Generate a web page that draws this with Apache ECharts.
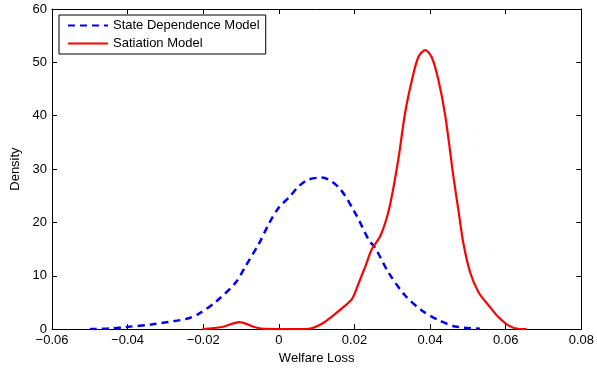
<!DOCTYPE html>
<html>
<head>
<meta charset="utf-8">
<script src="https://cdn.jsdelivr.net/npm/echarts@6/dist/echarts.min.js"></script>
<style>html,body{margin:0;padding:0;background:#fff;}#chart{width:597px;height:370px;}</style>
</head>
<body>
<div id="chart"></div>
<script>
var seriesNames = ['State Dependence Model', 'Satiation Model'];
var sdX = [-0.050, -0.0448, -0.0404, -0.0334, -0.0246, -0.0211, -0.0167, -0.0114, -0.0088, -0.0052, -0.0026, 0.0, 0.0027, 0.0053, 0.0079, 0.0114, 0.0159, 0.0203, 0.0238, 0.0255, 0.0290, 0.0334, 0.0378, 0.0422, 0.0466, 0.0532];
var sdY = [0, 0.1, 0.4, 0.9, 1.9, 2.9, 5.1, 8.75, 11.8, 16.1, 19.8, 22.8, 24.7, 26.8, 28.05, 28.4, 26.5, 21.6, 16.7, 15.2, 10.6, 6.3, 3.5, 1.7, 0.5, 0.05];
var satX = [-0.0202, -0.015, -0.0105, -0.006, -0.0035, 0.005, 0.0079, 0.0114, 0.0141, 0.0172, 0.0194, 0.0211, 0.0229, 0.0246, 0.0268, 0.0286, 0.0299, 0.0317, 0.0334, 0.0352, 0.0369, 0.0387, 0.0404, 0.0422, 0.0440, 0.0462, 0.0475, 0.0488, 0.0506, 0.0528, 0.0554, 0.0580, 0.0607, 0.0633, 0.0655];
var satY = [0, 0.4, 1.3, 0.3, 0.05, 0, 0.05, 1.0, 2.4, 4.2, 5.7, 8.6, 11.8, 15.0, 17.4, 21.0, 25.0, 32.3, 40.6, 46.7, 51.0, 52.3, 51.0, 46.7, 40.0, 28.4, 22.2, 16.1, 10.6, 6.9, 4.5, 2.3, 0.7, 0.05, 0];
var xTickValues = [-0.06, -0.04, -0.02, 0, 0.02, 0.04, 0.06, 0.08];
var xTickLabels = ['\u22120.06', '\u22120.04', '\u22120.02', '0', '0.02', '0.04', '0.06', '0.08'];
var yTickValues = [0, 10, 20, 30, 40, 50, 60];
var yTickLabels = ['0', '10', '20', '30', '40', '50', '60'];
var xAxisName = 'Welfare Loss';
var yAxisName = 'Density';

function zip(a, b) { return a.map(function (v, i) { return [v, b[i]]; }); }
function xFmt(v) {
  for (var i = 0; i < xTickValues.length; i++) if (Math.abs(v - xTickValues[i]) < 1e-9) return xTickLabels[i];
  return '';
}
function yFmt(v) {
  for (var i = 0; i < yTickValues.length; i++) if (Math.abs(v - yTickValues[i]) < 1e-9) return yTickLabels[i];
  return '';
}
var FONT = 'Liberation Sans, Arial, sans-serif';
var axisCommon = {
  type: 'value',
  axisLine: { show: true, onZero: false, lineStyle: { color: '#000', width: 1 } },
  axisTick: { show: true, inside: true, length: 5, lineStyle: { color: '#000' } },
  splitLine: { show: false }
};
var chart = echarts.init(document.getElementById('chart'), null, { renderer: 'canvas' });
chart.setOption({
  animation: false,
  backgroundColor: '#fff',
  grid: { left: 52, right: 14, top: 9, bottom: 36, containLabel: false },
  xAxis: [
    Object.assign({}, axisCommon, {
      min: -0.06, max: 0.08, interval: 0.02, position: 'bottom',
      name: xAxisName, nameLocation: 'middle', nameGap: 22,
      nameTextStyle: { color: '#000', fontSize: 13, fontFamily: FONT },
      axisLabel: { color: '#000', fontSize: 13, fontFamily: FONT, margin: 5, formatter: xFmt }
    }),
    Object.assign({}, axisCommon, {
      min: -0.06, max: 0.08, interval: 0.02, position: 'top',
      axisLabel: { show: false }
    })
  ],
  yAxis: [
    Object.assign({}, axisCommon, {
      min: 0, max: 60, interval: 10, position: 'left',
      name: yAxisName, nameLocation: 'middle', nameGap: 28, nameRotate: 90,
      nameTextStyle: { color: '#000', fontSize: 13, fontFamily: FONT },
      axisLabel: { color: '#000', fontSize: 13, fontFamily: FONT, margin: 5, formatter: yFmt }
    }),
    Object.assign({}, axisCommon, {
      min: 0, max: 60, interval: 10, position: 'right',
      axisLabel: { show: false }
    })
  ],
  legend: {
    show: true, orient: 'vertical', left: 59, top: 15,
    backgroundColor: '#fff', borderColor: '#000', borderWidth: 1, borderRadius: 0,
    padding: [4, 6, 4, 8], itemGap: 5, itemWidth: 40, itemHeight: 14,
    itemStyle: { opacity: 0 },
    textStyle: { color: '#000', fontSize: 13, fontFamily: FONT },
    data: seriesNames
  },
  series: [
    {
      name: seriesNames[0], type: 'line', xAxisIndex: 0, yAxisIndex: 0,
      data: zip(sdX, sdY), smooth: 0.3, showSymbol: false, symbol: 'none',
      lineStyle: { color: '#0000ff', width: 2.5, type: [7, 5] },
      itemStyle: { color: '#0000ff' }
    },
    {
      name: seriesNames[1], type: 'line', xAxisIndex: 0, yAxisIndex: 0,
      data: zip(satX, satY), smooth: 0.3, showSymbol: false, symbol: 'none',
      lineStyle: { color: '#ff0000', width: 2.2 },
      itemStyle: { color: '#ff0000' }
    }
  ]
});
</script>
</body>
</html>
